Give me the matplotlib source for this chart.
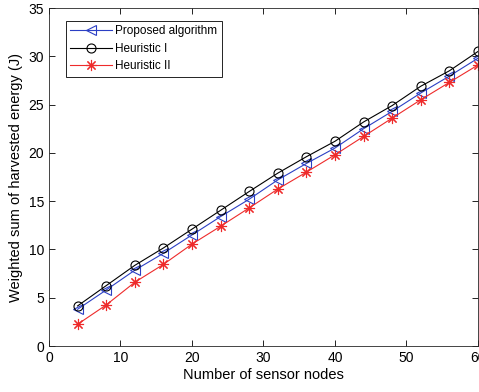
import matplotlib
matplotlib.use('Agg')
import matplotlib.pyplot as plt

# number of sensor nodes
nodes = [4, 8, 12, 16, 20, 24, 28, 32, 36, 40, 44, 48, 52, 56, 60]

# weighted sum of harvested energy (J)
proposed = [3.8, 5.8, 7.85, 9.6, 11.5, 13.4, 15.2, 17.2, 18.9, 20.5, 22.5, 24.3, 26.2, 27.95, 29.8]
heuristic1 = [4.15, 6.25, 8.35, 10.15, 12.1, 14.05, 16.0, 17.9, 19.6, 21.2, 23.2, 24.9, 26.9, 28.5, 30.5]
heuristic2 = [2.25, 4.25, 6.6, 8.45, 10.55, 12.4, 14.3, 16.25, 18.0, 19.8, 21.7, 23.6, 25.5, 27.3, 29.1]

plt.rcParams['font.family'] = ['Liberation Sans', 'DejaVu Sans']

fig = plt.figure(figsize=(4.79, 3.92), dpi=100)
ax = fig.add_axes([49 / 479, 46 / 392, 429 / 479, 338 / 392])

# MATLAB style asterisk: 8 arms
asterisk = (8, 2, 0)

ax.plot(nodes, proposed, color='#2b3fc4', marker='<', markersize=6.5,
        markerfacecolor='none', markeredgewidth=0.8, linewidth=0.8,
        label='Proposed algorithm')
ax.plot(nodes, heuristic1, color='black', marker='o', markersize=6.5,
        markerfacecolor='none', markeredgewidth=0.8, linewidth=0.8,
        label='Heuristic I')
ax.plot(nodes, heuristic2, color='#ee2b2b', marker=asterisk, markersize=8,
        markeredgewidth=0.8, linewidth=0.8, label='Heuristic II')

ax.set_xlim(0, 60)
ax.set_ylim(0, 35)
ax.set_xticks(range(0, 61, 10))
ax.set_yticks(range(0, 36, 5))
ax.tick_params(direction='in', top=True, right=True, labelsize=10, length=4, width=0.6)
for s in ax.spines.values():
    s.set_linewidth(0.6)
    s.set_color('#262626')

ax.set_xlabel('Number of sensor nodes', fontsize=10.5, labelpad=2)
ax.set_ylabel('Weighted sum of harvested energy (J)', fontsize=10.5, labelpad=4)

leg = ax.legend(loc='upper left', bbox_to_anchor=(0.025, 0.98), fontsize=8.5,
                handlelength=3.5, borderpad=0.4, labelspacing=0.45,
                handletextpad=0.3, fancybox=False, framealpha=1,
                edgecolor='black')
leg.get_frame().set_linewidth(0.6)

fig.savefig('out.png', dpi=100)
